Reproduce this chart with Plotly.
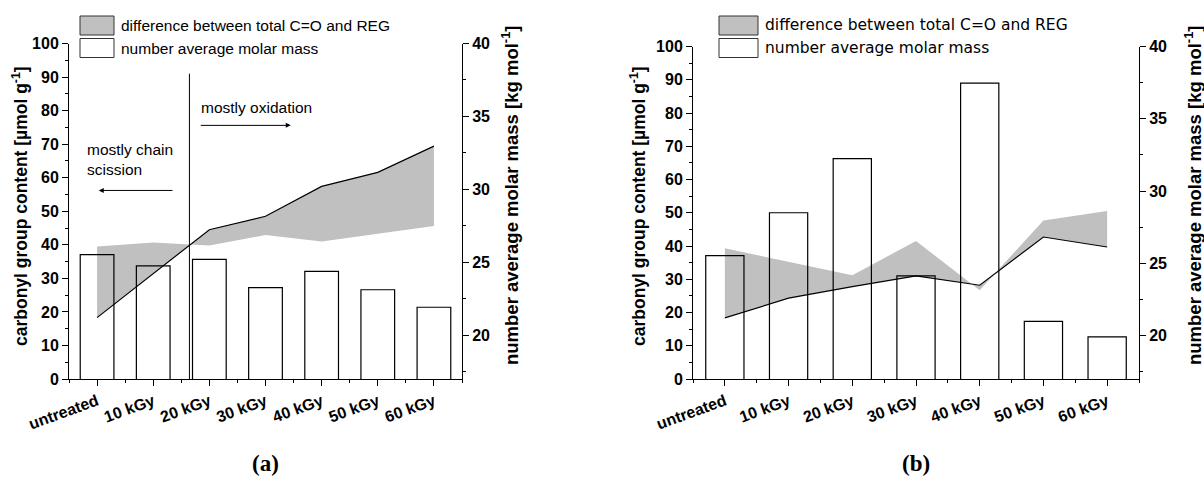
import plotly.graph_objects as go

W, H = 1204, 484

categories = ["untreated", "10 kGy", "20 kGy", "30 kGy", "40 kGy", "50 kGy", "60 kGy"]
cat_pos = list(range(len(categories)))

# panel (a)
a_total_co = [39.5, 40.7, 39.8, 42.9, 41.0, 43.4, 45.6]
a_reg = [18.3, 31.5, 44.5, 48.5, 57.4, 61.6, 69.4]
a_molar_mass = [25.53, 24.75, 25.20, 23.26, 24.38, 23.12, 21.92]

# panel (b)
b_total_co = [39.3, 35.2, 31.2, 41.5, 26.7, 47.7, 50.5]
b_reg = [18.4, 24.3, 27.8, 31.0, 28.2, 42.7, 39.7]
b_molar_mass = [25.53, 28.50, 32.25, 24.13, 37.47, 20.98, 19.92]

left_ticks = list(range(0, 101, 10))
right_ticks = [20, 25, 30, 35, 40]
right_minor = [17.5, 22.5, 27.5, 32.5, 37.5]

legend_labels = ["difference between total C=O and REG", "number average molar mass"]
left_title = "<b>carbonyl group content [µmol g<sup>-1</sup>]</b>"
right_title = "<b>number average molar mass [kg mol<sup>-1</sup>]</b>"

GRAY = "#c0c0c0"
FONT = "Liberation Sans, Arial, sans-serif"
WIDE = "DejaVu Sans, Verdana, sans-serif"


def px(x):
    return x / W


def py(y):
    return 1 - y / H


panels = [
    dict(x0=69, x1=462, y0=43.5, y1=379, co=a_total_co, reg=a_reg, mm=a_molar_mass,
         xa="x", ya="y", ya2="y2", label="(a)",
         leg_x=80, leg_w=34, leg_font=FONT, lt_x=20, rt_x=510),
    dict(x0=693, x1=1139, y0=46.5, y1=379, co=b_total_co, reg=b_reg, mm=b_molar_mass,
         xa="x3", ya="y3", ya2="y4", label="(b)",
         leg_x=719, leg_w=39, leg_font=WIDE, lt_x=638, rt_x=1193),
]

fig = go.Figure()
shapes = []
annotations = []

for p in panels:
    fig.add_trace(go.Scatter(x=cat_pos, y=p["co"], mode="lines", line=dict(width=0, color=GRAY),
                             xaxis=p["xa"], yaxis=p["ya"], showlegend=False, hoverinfo="skip"))
    fig.add_trace(go.Scatter(x=cat_pos, y=p["reg"], mode="lines", fill="tonexty", fillcolor=GRAY,
                             line=dict(width=1.2, color="black"),
                             xaxis=p["xa"], yaxis=p["ya"], showlegend=False))
    fig.add_trace(go.Bar(x=cat_pos, y=p["mm"], width=0.6,
                         marker=dict(color="rgba(0,0,0,0)", line=dict(color="black", width=1.2)),
                         xaxis=p["xa"], yaxis=p["ya2"], showlegend=False))

    # legend swatches
    lx0, lw = p["leg_x"], p["leg_w"]
    boxes = [(16, 35, GRAY), (38.5, 57.5, "white")]
    for (t, b, c), txt in zip(boxes, legend_labels):
        shapes.append(dict(type="rect", xref="paper", yref="paper",
                           x0=px(lx0), x1=px(lx0 + lw), y0=py(b), y1=py(t),
                           fillcolor=c, line=dict(color="#333333", width=1), layer="above"))
        annotations.append(dict(xref="paper", yref="paper", x=px(lx0 + lw + 5), y=py((t + b) / 2),
                                text=txt, showarrow=False, xanchor="left", yanchor="middle",
                                font=dict(family=p["leg_font"], size=15.5, color="black")))
    # axis titles
    annotations.append(dict(xref="paper", yref="paper", x=px(p["lt_x"]), y=py(206),
                            text=left_title, textangle=-90, showarrow=False,
                            xanchor="center", yanchor="middle",
                            font=dict(family=FONT, size=17.5, color="black")))
    annotations.append(dict(xref="paper", yref="paper", x=px(p["rt_x"]), y=py(195),
                            text=right_title, textangle=-90, showarrow=False,
                            xanchor="center", yanchor="middle",
                            font=dict(family=FONT, size=18.5, color="black")))
    annotations.append(dict(xref="paper", yref="paper", x=px((p["x0"] + p["x1"]) / 2), y=py(463),
                            text="<b>" + p["label"] + "</b>", showarrow=False,
                            xanchor="center", yanchor="middle",
                            font=dict(family="Liberation Serif, Times New Roman, serif", size=23, color="black")))

# panel (a) extra: separating line and arrows
shapes.append(dict(type="line", xref="x", yref="y", x0=1.645, x1=1.645, y0=-4.5, y1=91,
                   line=dict(color="black", width=1)))
annotations += [
    dict(xref="x", yref="y", x=1.82, y=81, text="mostly oxidation", showarrow=False,
         xanchor="left", yanchor="middle", font=dict(family=FONT, size=15.5, color="black")),
    dict(xref="x", yref="y", x=3.45, y=75.6, ax=1.82, ay=75.6, axref="x", ayref="y", text="",
         showarrow=True, arrowhead=2, arrowsize=1, arrowwidth=1, arrowcolor="black"),
    dict(xref="x", yref="y", x=-0.21, y=65.5, text="mostly chain<br>scission", showarrow=False,
         xanchor="left", yanchor="middle", align="left",
         font=dict(family=FONT, size=15.5, color="black")),
    dict(xref="x", yref="y", x=0.03, y=56.2, ax=1.37, ay=56.2, axref="x", ayref="y", text="",
         showarrow=True, arrowhead=2, arrowsize=1, arrowwidth=1, arrowcolor="black"),
]

tickfont = dict(family=FONT, size=16, color="black")


def xaxis_cfg(p, anchor):
    return dict(domain=[px(p["x0"]), px(p["x1"])], range=[-0.5, 6.5], anchor=anchor, automargin=False,
                tickmode="array", tickvals=cat_pos, ticktext=["<b>" + c + "</b>" for c in categories],
                tickangle=-20, ticks="outside", ticklen=6, tickwidth=1, tickcolor="black",
                minor=dict(tickmode="array", tickvals=[i - 0.5 for i in range(8)], ticklen=3,
                           ticks="outside", tickcolor="black"),
                showline=True, linecolor="black", linewidth=1, showgrid=False, zeroline=False,
                tickfont=tickfont, fixedrange=True)


def yaxis_cfg(p, anchor):
    return dict(domain=[py(p["y1"]), py(p["y0"])], range=[0, 100], anchor=anchor, automargin=False,
                tickmode="array", tickvals=left_ticks, ticktext=["<b>%d</b>" % v for v in left_ticks],
                ticks="outside", ticklen=6, tickwidth=1, tickcolor="black",
                minor=dict(tickmode="array", tickvals=[v + 5 for v in left_ticks[:-1]], ticklen=3,
                           ticks="outside", tickcolor="black"),
                showline=True, linecolor="black", linewidth=1, showgrid=False, zeroline=False,
                tickfont=tickfont, fixedrange=True)


def yaxis2_cfg(p, anchor, overlay):
    return dict(domain=[py(p["y1"]), py(p["y0"])], range=[17, 40], anchor=anchor, overlaying=overlay,
                automargin=False,
                side="right", tickmode="array", tickvals=right_ticks,
                ticktext=["<b>%d</b>" % v for v in right_ticks],
                ticks="outside", ticklen=6, tickwidth=1, tickcolor="black",
                minor=dict(tickmode="array", tickvals=right_minor, ticklen=3,
                           ticks="outside", tickcolor="black"),
                showline=True, linecolor="black", linewidth=1, showgrid=False, zeroline=False,
                tickfont=tickfont, fixedrange=True)


fig.update_layout(
    width=W, height=H, margin=dict(l=0, r=0, t=0, b=0, autoexpand=False),
    paper_bgcolor="white", plot_bgcolor="rgba(0,0,0,0)",
    barmode="overlay", showlegend=False,
    xaxis=xaxis_cfg(panels[0], "y"),
    yaxis=yaxis_cfg(panels[0], "x"),
    yaxis2=yaxis2_cfg(panels[0], "x", "y"),
    xaxis3=xaxis_cfg(panels[1], "y3"),
    yaxis3=yaxis_cfg(panels[1], "x3"),
    yaxis4=yaxis2_cfg(panels[1], "x3", "y3"),
    shapes=shapes, annotations=annotations,
)

fig.write_html("out.html", config={"displayModeBar": False},
               post_script="document.body.style.margin='0px';")
